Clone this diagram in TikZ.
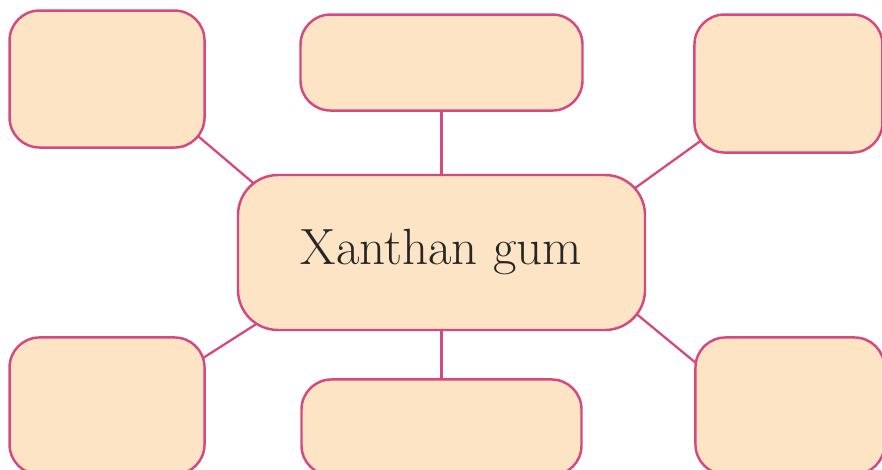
\documentclass[tikz,border=0pt]{standalone}
\usepackage{tikz}
\usetikzlibrary{positioning,backgrounds}

\definecolor{boxfill}{RGB}{252,228,196}
\definecolor{boxline}{RGB}{214,72,128}

\begin{document}
\begin{tikzpicture}[
    blank/.style={rectangle, draw=boxline, fill=boxfill, line width=1.4pt, rounded corners=0.6cm, inner sep=0pt},
    topic/.style={rectangle, draw=boxline, fill=boxfill, line width=1.4pt, rounded corners=0.8cm, inner sep=0pt, minimum width=8.14cm, minimum height=3.1cm, text=black!85, font=\fontsize{29}{34}\selectfont},
    link/.style={draw=boxline, line width=1.3pt}
]
\clip (0,0) rectangle (17.64,9.38);

% Centre
\node [topic] (gum) at (8.83,4.33) {Xanthan gum};

% Top row
\node [blank, minimum width=3.9cm, minimum height=2.74cm, above left=0.5cm and 0.62cm of gum] (tl) {};
\node [blank, minimum width=5.64cm, minimum height=1.92cm, above=1.24cm of gum] (tm) {};
\node [blank, minimum width=3.76cm, minimum height=2.76cm, above right=0.4cm and 0.94cm of gum] (tr) {};

% Bottom row
\node [blank, minimum width=3.9cm, minimum height=2.74cm, below left=0.1cm and 0.62cm of gum] (bl) {};
\node [blank, minimum width=5.6cm, minimum height=1.92cm, below=0.94cm of gum] (bm) {};
\node [blank, minimum width=3.78cm, minimum height=2.74cm, below right=0.1cm and 0.96cm of gum] (br) {};

% Connections
\begin{pgfonlayer}{background}
\path [link] ([shift={(-0.54,0.58)}]tl.south east) -- ([shift={(0.70,-0.50)}]gum.north west);
\path [link] (tm) -- (gum);
\path [link] ([shift={(0.54,0.54)}]tr.south west) -- ([shift={(-0.66,-0.60)}]gum.north east);
\path [link] ([shift={(-0.50,-0.72)}]bl.north east) -- ([shift={(0.98,0.52)}]gum.south west);
\path [link] (bm) -- (gum);
\path [link] ([shift={(0.50,-0.92)}]br.north west) -- ([shift={(-0.71,0.77)}]gum.south east);
\end{pgfonlayer}

\end{tikzpicture}
\end{document}
